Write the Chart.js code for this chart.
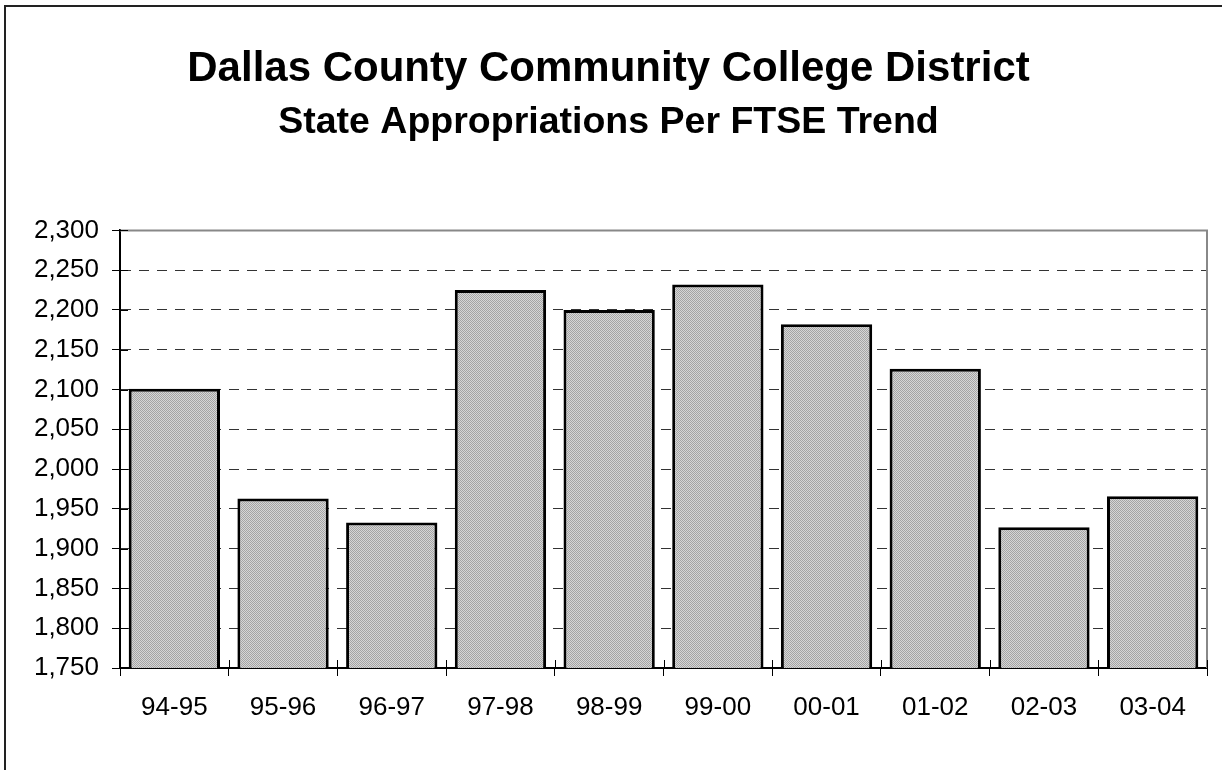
<!DOCTYPE html>
<html>
<head>
<meta charset="utf-8">
<script src="https://cdn.jsdelivr.net/npm/chart.js@4.4.0/dist/chart.umd.min.js"></script>
<style>
  html, body { margin: 0; padding: 0; background: #fff; }
  #wrap { width: 1222px; height: 770px; position: relative; }
</style>
</head>
<body>
<div id="wrap"><canvas id="ftseChart"></canvas></div>
<script>
// ===============================
// Data
// ===============================
const years = ["94-95", "95-96", "96-97", "97-98", "98-99", "99-00", "00-01", "01-02", "02-03", "03-04"];
const perFtse = [2101, 1963, 1933, 2225, 2200, 2232, 2182, 2126, 1927, 1966];
const yMin = 1750;
const yMax = 2300;
const yStep = 50;

const titleText = "Dallas County Community College District";
const subtitleText = "State Appropriations Per FTSE Trend";

const FONT = "Arial, 'Liberation Sans', sans-serif";

// stippled gray fill like the old spreadsheet pattern
function stipple() {
    const c = document.createElement("canvas");
    c.width = 2;
    c.height = 2;
    const p = c.getContext("2d");
    p.fillStyle = "#d6d6d6";
    p.fillRect(0, 0, 2, 2);
    p.fillStyle = "#a4a4a4";
    p.fillRect(0, 0, 1, 1);
    p.fillRect(1, 1, 1, 1);
    return p.createPattern(c, "repeat");
}

// white page + outer frame (only top/left edge visible in the picture)
const framePlugin = {
    id: "frame",
    beforeDraw(chart) {
        const ctx = chart.ctx;
        ctx.save();
        ctx.fillStyle = "#ffffff";
        ctx.fillRect(0, 0, chart.width, chart.height);
        ctx.strokeStyle = "#222";
        ctx.lineWidth = 2;
        ctx.beginPath();
        ctx.moveTo(5, chart.height + 5);
        ctx.lineTo(5, 6);
        ctx.lineTo(chart.width + 5, 6);
        ctx.stroke();
        ctx.restore();
    }
};

// gray top/right plot border and the inner half of the cross ticks
const plotBorderPlugin = {
    id: "plotBorder",
    afterDraw(chart) {
        const ctx = chart.ctx;
        const a = chart.chartArea;
        const xs = chart.scales.x;
        const ys = chart.scales.y;
        ctx.save();
        ctx.strokeStyle = "#888";
        ctx.lineWidth = 2;
        ctx.beginPath();
        ctx.moveTo(a.left, a.top);
        ctx.lineTo(a.right, a.top);
        ctx.lineTo(a.right, a.bottom);
        ctx.stroke();

        ctx.strokeStyle = "#000";
        ctx.lineWidth = 1;
        ctx.beginPath();
        ys.ticks.forEach((t, i) => {
            const y = Math.round(ys.getPixelForTick(i)) + 0.5;
            ctx.moveTo(a.left, y);
            ctx.lineTo(a.left + 8, y);
        });
        const cat = xs.width / years.length;
        for (let i = 0; i <= years.length; i++) {
            const x = Math.round(xs.left + i * cat) + 0.5;
            ctx.moveTo(x, a.bottom);
            ctx.lineTo(x, a.bottom - 8);
        }
        ctx.stroke();
        ctx.restore();
    }
};

const ctx = document.getElementById("ftseChart");

new Chart(ctx, {
    type: "bar",
    data: {
        labels: years,
        datasets: [{
            label: "State Appropriations Per FTSE",
            data: perFtse,
            backgroundColor: stipple(),
            borderColor: "#000",
            borderWidth: 3,
            borderSkipped: false,
            barPercentage: 0.84,
            categoryPercentage: 1.0
        }]
    },
    options: {
        responsive: true,
        maintainAspectRatio: false,
        animation: false,
        devicePixelRatio: 1,
        layout: {
            padding: { left: 10, right: 15, top: 0, bottom: 0 }
        },
        plugins: {
            legend: { display: false },
            tooltip: { enabled: false },
            title: {
                display: true,
                text: titleText,
                color: "#000",
                font: { family: FONT, size: 42, weight: "bold", lineHeight: 1.2 },
                padding: { top: 44, bottom: 6 }
            },
            subtitle: {
                display: true,
                text: subtitleText,
                color: "#000",
                font: { family: FONT, size: 37.5, weight: "bold", lineHeight: 1.2 },
                padding: { top: 0, bottom: 85 }
            }
        },
        scales: {
            x: {
                grid: {
                    offset: true,
                    drawOnChartArea: false,
                    drawTicks: true,
                    tickLength: 8,
                    tickColor: "#000",
                    tickWidth: 1
                },
                border: { color: "#000", width: 2 },
                ticks: {
                    color: "#000",
                    padding: 16,
                    font: { family: FONT, size: 26 }
                },
                afterFit(scale) {
                    scale.height = 102;
                }
            },
            y: {
                min: yMin,
                max: yMax,
                grid: {
                    color: (c) => (c.tick && c.tick.value === yMax) ? "rgba(0,0,0,0)" : "#333",
                    lineWidth: 1,
                    drawTicks: true,
                    tickLength: 8,
                    tickColor: "#000",
                    tickWidth: 1
                },
                border: { color: "#000", width: 2, dash: [10, 8] },
                ticks: {
                    stepSize: yStep,
                    color: "#000",
                    padding: 13,
                    font: { family: FONT, size: 26 },
                    callback: (v) => v.toLocaleString("en-US")
                },
                afterFit(scale) {
                    scale.width = 110;
                }
            }
        }
    },
    plugins: [framePlugin, plotBorderPlugin]
});
</script>
</body>
</html>
